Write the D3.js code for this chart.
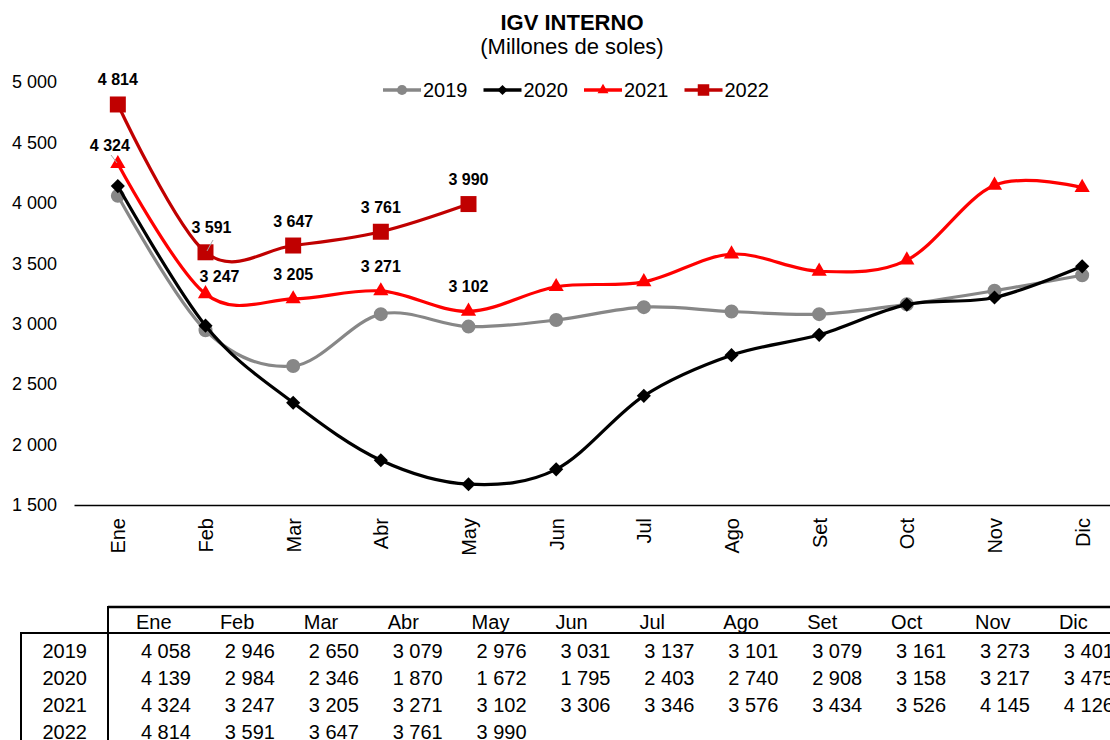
<!DOCTYPE html>
<html>
<head>
<meta charset="utf-8">
<script src="https://cdn.jsdelivr.net/npm/d3@7"></script>
<style>
body { margin: 0; background: #fff; }
svg { display: block; font-family: "Liberation Sans", Arial, sans-serif; }
</style>
</head>
<body>
<svg id="igv_chart"></svg>
<script>
// data (millones de soles)
var months = ["Ene", "Feb", "Mar", "Abr", "May", "Jun", "Jul", "Ago", "Set", "Oct", "Nov", "Dic"];
var years = ["2019", "2020", "2021", "2022"];
var v2019 = [4058, 2946, 2650, 3079, 2976, 3031, 3137, 3101, 3079, 3161, 3273, 3401];
var v2020 = [4139, 2984, 2346, 1870, 1672, 1795, 2403, 2740, 2908, 3158, 3217, 3475];
var v2021 = [4324, 3247, 3205, 3271, 3102, 3306, 3346, 3576, 3434, 3526, 4145, 4126];
var v2022 = [4814, 3591, 3647, 3761, 3990];
var yTicks = [1500, 2000, 2500, 3000, 3500, 4000, 4500, 5000];

var width = 1110, height = 740;

var svg = d3.select("#igv_chart")
.attr("width", width)
.attr("height", height);

var fmt = d3.formatLocale({decimal: ",", thousands: " ", grouping: [3], currency: ["", ""]}).format(",d");

var series = [
  {name: "2019", values: v2019, color: "#878787", marker: "circle"},
  {name: "2020", values: v2020, color: "#000000", marker: "diamond"},
  {name: "2021", values: v2021, color: "#ff0000", marker: "triangle"},
  {name: "2022", values: v2022, color: "#c00000", marker: "square"}
];

// scales
var x = d3.scalePoint()
.domain(months)
.range([74, 1126])
.padding(0.5);

var y = d3.scaleLinear()
.domain([1500, 5000])
.range([505, 82]);

// title
svg.append("text")
.attr("x", 572).attr("y", 30)
.attr("text-anchor", "middle")
.style("font-size", "22px").style("font-weight", "bold")
.text("IGV INTERNO");
svg.append("text")
.attr("x", 572).attr("y", 54)
.attr("text-anchor", "middle")
.style("font-size", "22px")
.text("(Millones de soles)");

// Y axis, labels only
var yAxis = svg.append("g")
.attr("transform", "translate(74,0)")
.call(d3.axisLeft(y).tickValues(yTicks).tickSize(0).tickPadding(17).tickFormat(fmt));
yAxis.select(".domain").remove();
yAxis.selectAll("text").style("font-size", "18px").attr("fill", "#000");

// X axis with rotated month names
var xAxis = svg.append("g")
.attr("transform", "translate(0,505)")
.call(d3.axisBottom(x).tickSize(0));
xAxis.select(".domain").attr("stroke", "#000").attr("stroke-width", 1.4);
xAxis.selectAll("text")
.attr("y", 0).attr("x", -13).attr("dy", "0.35em")
.attr("transform", "rotate(-90)")
.style("text-anchor", "end")
.style("font-size", "20px")
.attr("fill", "#000");

function markerPath(type, scale) {
  var s = scale || 1;
  if (type == "circle") return d3.symbol(d3.symbolCircle, 154 * s * s)();
  if (type == "square") return d3.symbol(d3.symbolSquare, 256 * s * s)();
  if (type == "triangle") return d3.symbol(d3.symbolTriangle, 100 * s * s)();
  return d3.symbol(d3.symbolSquare, 100 * s * s)();
}

var line = d3.line()
.x(function(d, i) { return x(months[i]); })
.y(function(d) { return y(d); })
.curve(d3.curveCardinal.tension(0));

// lines + markers
series.forEach(function(s) {
  svg.append("path")
  .datum(s.values)
  .attr("fill", "none")
  .attr("stroke", s.color)
  .attr("stroke-width", 3.2)
  .attr("d", line);

  svg.selectAll(".m" + s.name)
  .data(s.values)
  .enter().append("path")
  .attr("class", "m" + s.name)
  .attr("d", markerPath(s.marker))
  .attr("fill", s.color)
  .attr("transform", function(d, i) {
    return "translate(" + x(months[i]) + "," + y(d) + ")" + (s.marker == "diamond" ? " rotate(45)" : "");
  });
});

// data labels (2021 first five months, 2022)
var labelShift = {"2021-0": [-8, 6], "2021-1": [14, 7], "2022-1": [6, 0]};
function addLabels(name, vals) {
  vals.forEach(function(v, i) {
    var sh = labelShift[name + "-" + i] || [0, 0];
    svg.append("text")
    .attr("x", x(months[i]) + sh[0])
    .attr("y", y(v) - 19 + sh[1])
    .attr("text-anchor", "middle")
    .style("font-size", "16px").style("font-weight", "bold")
    .text(fmt(v));
  });
}
addLabels("2021", v2021.slice(0, 5));
addLabels("2022", v2022);

// small leader lines
svg.append("line").attr("x1", 111).attr("y1", 155).attr("x2", 117).attr("y2", 163)
.attr("stroke", "#a6a6a6").attr("stroke-width", 1);
svg.append("line").attr("x1", 213).attr("y1", 240).attr("x2", 207).attr("y2", 251)
.attr("stroke", "#a6a6a6").attr("stroke-width", 1);

// legend
var legend = svg.append("g").attr("transform", "translate(383,90)");
series.forEach(function(s, i) {
  var g = legend.append("g").attr("transform", "translate(" + (i * 100.5) + ",0)");
  g.append("line").attr("x1", 0).attr("x2", 38).attr("y1", 0).attr("y2", 0)
  .attr("stroke", s.color).attr("stroke-width", 3.5);
  g.append("path")
  .attr("d", markerPath(s.marker, 0.72))
  .attr("fill", s.color)
  .attr("transform", "translate(19,0)" + (s.marker == "diamond" ? " rotate(45)" : ""));
  g.append("text")
  .attr("x", 40).attr("y", 7)
  .style("font-size", "20px")
  .text(s.name);
});

// data table under the chart
var table = svg.append("g");
var rowY = [658, 685, 712, 739];
var colRight = function(i) { return 191 + i * 83.9; };

table.append("line").attr("x1", 108).attr("x2", 1110).attr("y1", 607).attr("y2", 607)
.attr("stroke", "#000").attr("stroke-width", 2.5);
table.append("line").attr("x1", 21).attr("x2", 1110).attr("y1", 633).attr("y2", 633)
.attr("stroke", "#000").attr("stroke-width", 2);
table.append("line").attr("x1", 108).attr("x2", 108).attr("y1", 606).attr("y2", 740)
.attr("stroke", "#000").attr("stroke-width", 2);
table.append("line").attr("x1", 21).attr("x2", 21).attr("y1", 632).attr("y2", 740)
.attr("stroke", "#000").attr("stroke-width", 2);

table.selectAll(".th")
.data(months)
.enter().append("text")
.attr("class", "th")
.attr("x", function(d, i) { return colRight(i) - 55; })
.attr("y", 629)
.style("font-size", "20px")
.text(function(d) { return d; });

series.forEach(function(s, r) {
  table.append("text")
  .attr("x", 87).attr("y", rowY[r])
  .attr("text-anchor", "end")
  .style("font-size", "20px")
  .text(s.name);
  table.selectAll(".td" + s.name)
  .data(s.values)
  .enter().append("text")
  .attr("class", "td" + s.name)
  .attr("x", function(d, i) { return colRight(i); })
  .attr("y", rowY[r])
  .attr("text-anchor", "end")
  .style("font-size", "20px")
  .text(function(d) { return fmt(d); });
});
</script>
</body>
</html>
